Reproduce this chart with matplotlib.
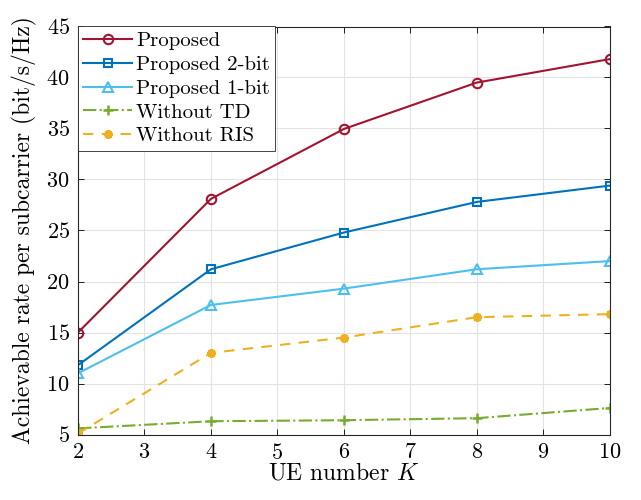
import matplotlib
matplotlib.use("Agg")
import matplotlib.pyplot as plt

plt.rcParams["font.family"] = ["cmr10", "DejaVu Serif"]
plt.rcParams["mathtext.fontset"] = "cm"
plt.rcParams["axes.formatter.use_mathtext"] = True

# data
ue_k = [2, 4, 6, 8, 10]
proposed = [15.0, 28.1, 34.95, 39.5, 41.8]
proposed_2bit = [11.8, 21.2, 24.8, 27.8, 29.4]
proposed_1bit = [11.0, 17.7, 19.3, 21.2, 22.0]
without_td = [5.6, 6.3, 6.4, 6.6, 7.6]
without_ris = [5.1, 13.0, 14.5, 16.5, 16.8]

x_ticks = [2, 3, 4, 5, 6, 7, 8, 9, 10]
y_ticks = [5, 10, 15, 20, 25, 30, 35, 40, 45]

# MATLAB default colours
RED = "#A2142F"
BLUE = "#0072BD"
CYAN = "#4DBEEE"
GREEN = "#77AC30"
YELLOW = "#EDB120"

fig = plt.figure(figsize=(6.41, 5.0), dpi=100)
ax = fig.add_axes([0.1217, 0.131, 0.8293, 0.816])

ax.plot(ue_k, proposed, "-o", color=RED, lw=1.5, ms=6.8, mfc="none", mew=1.5,
        label="Proposed")
ax.plot(ue_k, proposed_2bit, "-s", color=BLUE, lw=1.5, ms=5.2, mfc="none", mew=1.5,
        label="Proposed 2-bit")
ax.plot(ue_k, proposed_1bit, "-^", color=CYAN, lw=1.5, ms=7, mfc="none", mew=1.5,
        label="Proposed 1-bit")
ax.plot(ue_k, without_td, "-.", marker="+", color=GREEN, lw=1.5, ms=7, mew=1.8,
        label="Without TD")
ax.plot(ue_k, without_ris, "--", marker=(6, 2, 0), color=YELLOW, lw=1.5, ms=6,
        mew=2.6, dashes=(5, 4), label="Without RIS")

ax.set_xlim(2, 10)
ax.set_ylim(5, 45)
ax.set_xticks(x_ticks)
ax.set_yticks(y_ticks)
ax.grid(True, color="#E3E3E3", lw=0.8)
ax.set_axisbelow(True)
ax.tick_params(direction="in", length=4, width=0.6, labelsize=16,
               top=True, right=True, pad=6)
for sp in ax.spines.values():
    sp.set_linewidth(0.8)
    sp.set_color("#262626")

ax.set_xlabel("UE number $K$", fontsize=17, labelpad=0)
ax.set_ylabel("Achievable rate per subcarrier (bit/s/Hz)", fontsize=17, labelpad=7)

leg = ax.legend(loc="upper left", fontsize=15, borderaxespad=0, frameon=True,
                fancybox=False, edgecolor="#262626", framealpha=1,
                handlelength=2.35, handletextpad=0.2, borderpad=0.25,
                labelspacing=0.25)
leg.get_frame().set_linewidth(0.6)

fig.savefig("out.png", dpi=100)
